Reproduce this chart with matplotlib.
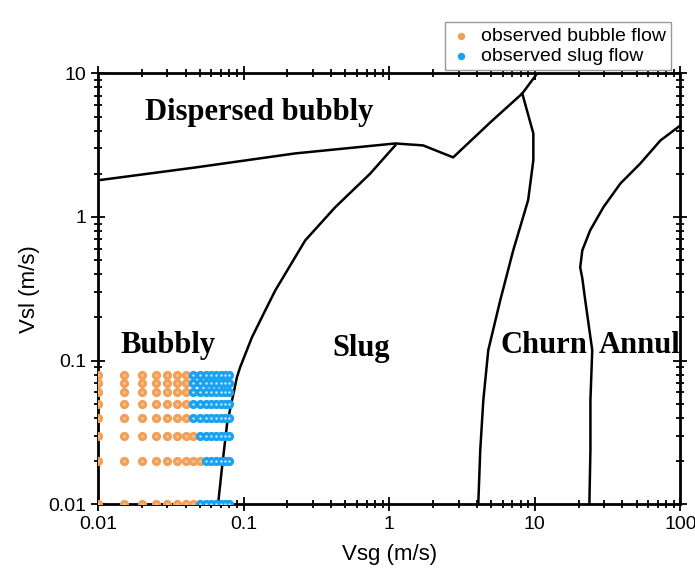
import matplotlib.pyplot as plt
import numpy as np

# boundary curves (Vsg, Vsl) in m/s
disp_x = [0.01, 0.0464, 0.226, 1.10, 1.71, 2.75, 4.94, 8.2, 10.4]
disp_y = [1.80, 2.21, 2.77, 3.25, 3.15, 2.60, 4.55, 7.24, 10.0]

slug_x = [1.10, 0.739, 0.426, 0.265, 0.165, 0.141, 0.114, 0.0946, 0.090, 0.0771, 0.0711, 0.0668]
slug_y = [3.15, 2.00, 1.17, 0.687, 0.308, 0.224, 0.145, 0.0897, 0.0766, 0.0366, 0.0181, 0.01]

churn_x = [8.2, 9.77, 9.77, 9.0, 7.11, 5.79, 4.79, 4.43, 4.22, 4.09]
churn_y = [7.24, 3.82, 2.48, 1.31, 0.586, 0.263, 0.118, 0.053, 0.0238, 0.01]

annul_x = [100, 72.9, 53.1, 38.7, 29.6, 24.0, 21.2, 20.5, 21.2, 22.2, 24.8, 24.1, 24.1, 23.7]
annul_y = [4.34, 3.41, 2.36, 1.71, 1.17, 0.807, 0.586, 0.446, 0.374, 0.263, 0.118, 0.053, 0.0238, 0.01]

# observed test points
vsl_rows = [0.01, 0.02, 0.03, 0.04, 0.05, 0.06, 0.07, 0.08]
vsg_cols = [0.01, 0.015, 0.02, 0.025, 0.03, 0.035, 0.04, 0.045, 0.05,
            0.055, 0.06, 0.065, 0.07, 0.075, 0.08]
slug_start = [0.05, 0.055, 0.05, 0.045, 0.045, 0.045, 0.045, 0.045]

bub_pts, slug_pts = [], []
for vsl, start in zip(vsl_rows, slug_start):
    for vsg in vsg_cols:
        if vsg < start - 1e-9:
            bub_pts.append((vsg, vsl))
        else:
            slug_pts.append((vsg, vsl))
bub_pts = np.array(bub_pts)
slug_pts = np.array(slug_pts)

orange = "#F0A058"
blue = "#1AA2F2"

plt.rcParams["font.family"] = ["Liberation Sans", "DejaVu Sans"]

fig = plt.figure(figsize=(6.95, 5.73), dpi=100)
ax = fig.add_axes([0.141, 0.120, 0.838, 0.752])

for xs, ys in [(disp_x, disp_y), (slug_x, slug_y), (churn_x, churn_y), (annul_x, annul_y)]:
    ax.plot(xs, ys, color="black", lw=1.8, zorder=2, solid_joinstyle="round")

ax.scatter(bub_pts[:, 0], bub_pts[:, 1], s=44, color=orange, lw=0, zorder=3,
           label="observed bubble flow")
ax.scatter(slug_pts[:, 0], slug_pts[:, 1], s=44, color=blue, lw=0, zorder=3,
           label="observed slug flow")
# little highlights on the dots
ax.scatter(bub_pts[:, 0], bub_pts[:, 1], s=5, color="#F6C08C", lw=0, zorder=4)
ax.scatter(slug_pts[:, 0], slug_pts[:, 1], s=3, color="#CDEBFF", lw=0, zorder=4)

serif = dict(family="Liberation Serif", fontweight="bold", fontsize=22, color="black")
ax.text(0.021, 5.35, "Dispersed bubbly", va="center", ha="left", **serif)
ax.text(0.0142, 0.128, "Bubbly", va="center", ha="left", **serif)
ax.text(0.41, 0.122, "Slug", va="center", ha="left", **serif)
ax.text(5.8, 0.128, "Churn", va="center", ha="left", **serif)
ax.text(27.3, 0.128, "Annul", va="center", ha="left", **serif)

ax.set_xscale("log")
ax.set_yscale("log")
ax.set_xlim(0.01, 100)
ax.set_ylim(0.01, 10)
ax.set_xticks([0.01, 0.1, 1, 10, 100])
ax.set_xticklabels(["0.01", "0.1", "1", "10", "100"])
ax.set_yticks([0.01, 0.1, 1, 10])
ax.set_yticklabels(["0.01", "0.1", "1", "10"])

ax.tick_params(which="both", top=True, right=True, direction="inout", width=1.3,
               labelsize=14, colors="black")
ax.tick_params(which="major", length=10)
ax.tick_params(which="minor", length=6)
for sp in ax.spines.values():
    sp.set_linewidth(2)

ax.set_xlabel("Vsg (m/s)", fontsize=16, labelpad=8)
ax.set_ylabel("Vsl (m/s)", fontsize=16, labelpad=6)

leg = fig.legend(loc="upper right", bbox_to_anchor=(0.979, 0.978), fontsize=14,
                 frameon=True, fancybox=False, framealpha=1, edgecolor="#999999",
                 borderpad=0.25, labelspacing=0.15, handletextpad=0.4,
                 handlelength=1.2, markerscale=0.8)
leg.get_frame().set_linewidth(1)

fig.savefig("out.png", dpi=100)
